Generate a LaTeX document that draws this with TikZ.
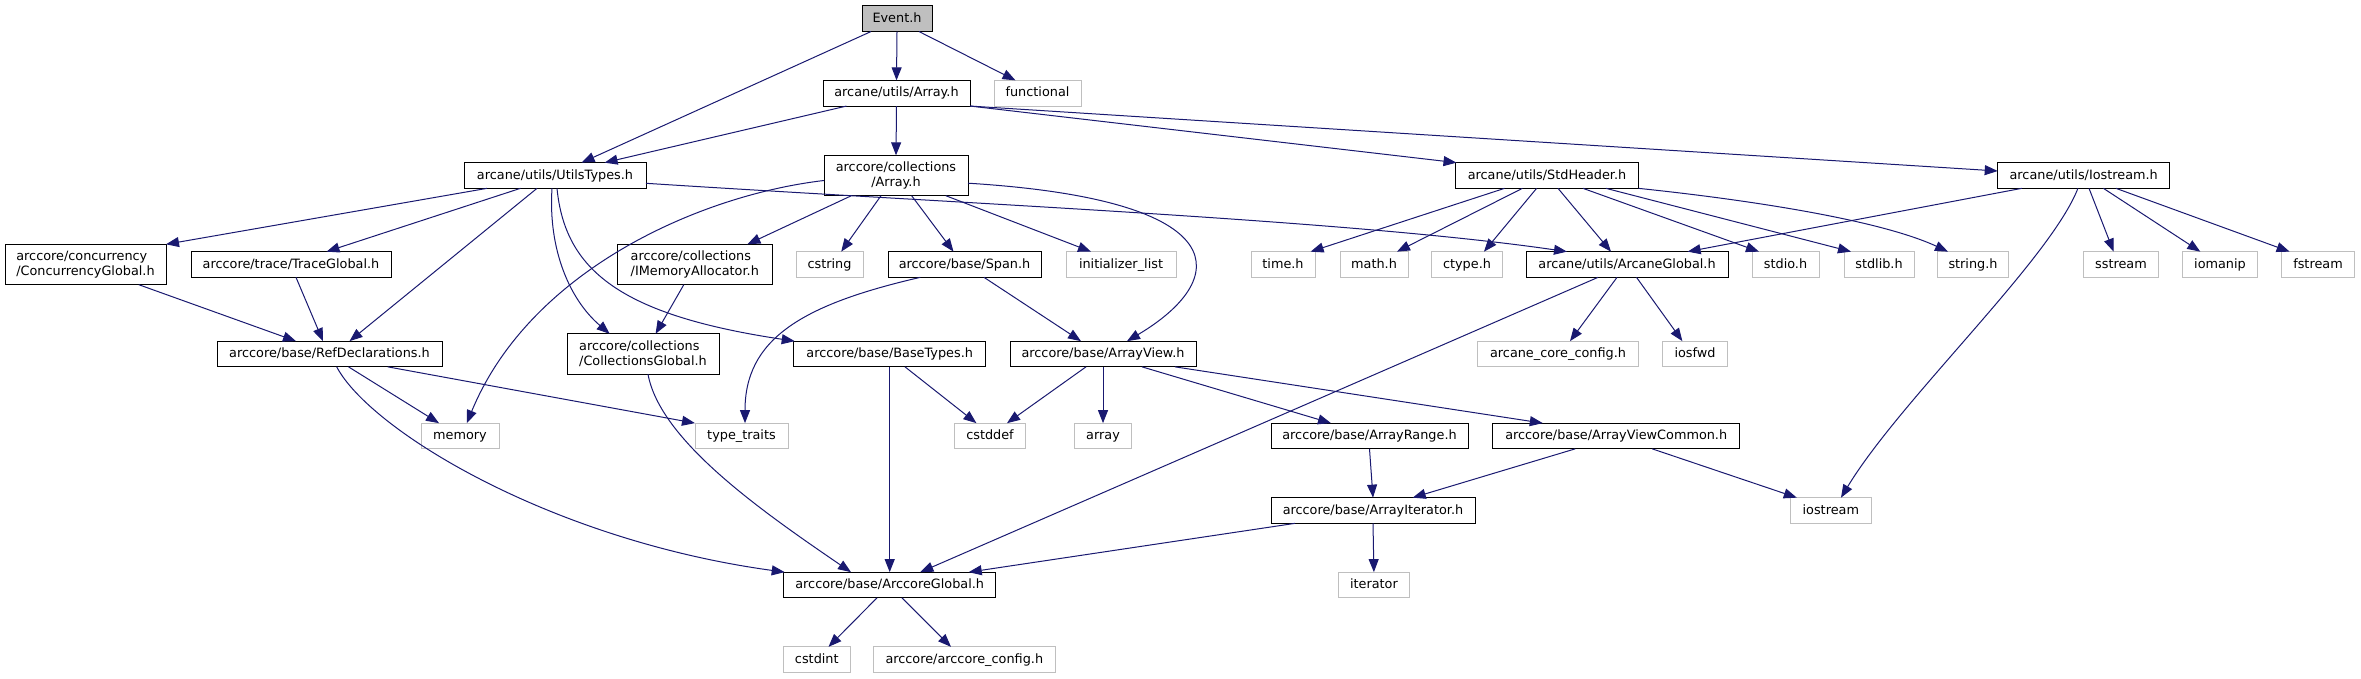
\documentclass[tikz,border=0pt]{standalone}
\usepackage{fontspec}
\setmainfont{DejaVu Sans}
\usetikzlibrary{arrows.meta}
\definecolor{edgeblue}{HTML}{191970}
\definecolor{sysgray}{HTML}{BFBFBF}
\begin{document}
\begin{tikzpicture}[x=1pt,y=-1pt,
  every node/.style={font=\fontsize{12.83pt}{15pt}\selectfont, inner sep=0pt, outer sep=0pt, rectangle, text height=10pt, text depth=2.4pt, minimum height=25.7pt},
  hdr/.style={draw=black, line width=1pt, fill=white},
  sys/.style={draw=sysgray, line width=1pt, fill=white},
  root/.style={draw=black, line width=1pt, fill=sysgray},
  two/.style={minimum height=40.4pt, text height=25pt, text depth=2.4pt},
  dep/.style={draw=edgeblue, line width=1pt, -{Triangle[length=13pt,width=10pt]}}]
\useasboundingbox (0,0) rectangle (2361,679);
% row 0
\node[root, minimum width=70pt] (Event) at (897,18.7) {Event.h};
% row 1
\node[hdr, minimum width=147pt] (ArrayA) at (896.5,93.2) {arcane/utils/Array.h};
\node[sys, minimum width=87pt] (functional) at (1037.5,93.2) {functional};
% row 2
\node[hdr, minimum width=182pt] (UtilsTypes) at (555,175.5) {arcane/utils/UtilsTypes.h};
\node[hdr, two, minimum width=144pt, align=center] (collArray) at (896,175.5) {arccore/collections\\/Array.h};
\node[hdr, minimum width=183pt] (StdHeader) at (1547,175.5) {arcane/utils/StdHeader.h};
\node[hdr, minimum width=172pt] (Iostream) at (2083.7,175.5) {arcane/utils/Iostream.h};
% row 3
\node[hdr, two, minimum width=161pt, align=left] (Concurrency) at (85.5,264.5) {arccore/concurrency\\/ConcurrencyGlobal.h};
\node[hdr, minimum width=200pt] (TraceGlobal) at (291,264.5) {arccore/trace/TraceGlobal.h};
\node[hdr, two, minimum width=155.5pt, align=left] (IMem) at (694.8,264.5) {arccore/collections\\/IMemoryAllocator.h};
\node[sys, minimum width=67pt] (cstring) at (829.5,264.5) {cstring};
\node[hdr, minimum width=153pt] (Span) at (964.5,264.5) {arccore/base/Span.h};
\node[sys, minimum width=110pt] (initlist) at (1121,264.5) {initializer\_list};
\node[sys, minimum width=64pt] (timeh) at (1283,264.5) {time.h};
\node[sys, minimum width=68pt] (mathh) at (1374,264.5) {math.h};
\node[sys, minimum width=71pt] (ctypeh) at (1467,264.5) {ctype.h};
\node[hdr, minimum width=202pt] (ArcaneGlobal) at (1627,264.5) {arcane/utils/ArcaneGlobal.h};
\node[sys, minimum width=67pt] (stdioh) at (1785.5,264.5) {stdio.h};
\node[sys, minimum width=70pt] (stdlibh) at (1879,264.5) {stdlib.h};
\node[sys, minimum width=70.5pt] (stringh) at (1973,264.5) {string.h};
\node[sys, minimum width=74.5pt] (sstream) at (2121,264.5) {sstream};
\node[sys, minimum width=74.5pt] (iomanip) at (2220,264.5) {iomanip};
\node[sys, minimum width=73.6pt] (fstream) at (2318,264.5) {fstream};
% row 4
\node[hdr, minimum width=225pt] (RefDecl) at (329.5,354) {arccore/base/RefDeclarations.h};
\node[hdr, two, minimum width=152pt, align=left] (CollGlobal) at (643,354) {arccore/collections\\/CollectionsGlobal.h};
\node[hdr, minimum width=192pt] (BaseTypes) at (889.7,354) {arccore/base/BaseTypes.h};
\node[hdr, minimum width=186pt] (ArrayView) at (1103,354) {arccore/base/ArrayView.h};
\node[sys, minimum width=160.5pt] (corecfg) at (1558,354) {arcane\_core\_config.h};
\node[sys, minimum width=65.5pt] (iosfwd) at (1695,354) {iosfwd};
% row 5
\node[sys, minimum width=78pt] (memory) at (460,436) {memory};
\node[sys, minimum width=93pt] (typetraits) at (741.5,436) {type\_traits};
\node[sys, minimum width=71pt] (cstddef) at (990,436) {cstddef};
\node[sys, minimum width=56.5pt] (array) at (1103,436) {array};
\node[hdr, minimum width=197pt] (ArrayRange) at (1369.5,436) {arccore/base/ArrayRange.h};
\node[hdr, minimum width=246.8pt] (AVC) at (1616.2,436) {arccore/base/ArrayViewCommon.h};
% row 6
\node[hdr, minimum width=204pt] (ArrayIter) at (1373,510.5) {arccore/base/ArrayIterator.h};
\node[sys, minimum width=80.4pt] (iostream) at (1830.8,510.5) {iostream};
% row 7
\node[hdr, minimum width=212pt] (ArccoreGlobal) at (889.7,585) {arccore/base/ArccoreGlobal.h};
\node[sys, minimum width=70.3pt] (iterator) at (1373.9,585) {iterator};
% row 8
\node[sys, minimum width=66.4pt] (cstdint) at (816.8,659.7) {cstdint};
\node[sys, minimum width=182.5pt] (arccorecfg) at (964.3,659.7) {arccore/arccore\_config.h};

% edges
\draw[dep] ([xshift=-26pt]Event.south) -- ([xshift=26.6pt]UtilsTypes.north);
\draw[dep] (Event.south) -- (ArrayA.north);
\draw[dep] ([xshift=22pt]Event.south) -- ([xshift=-22pt]functional.north);
\draw[dep] ([xshift=-50pt]ArrayA.south) -- ([xshift=49.6pt]UtilsTypes.north);
\draw[dep] (ArrayA.south) -- (collArray.north);
\draw[dep] (ArrayA.south east) -- ([xshift=1pt]StdHeader.north west);
\draw[dep] (ArrayA.south east) -- ([yshift=4.5pt]Iostream.west);
% UtilsTypes
\draw[dep] ([xshift=-68pt]UtilsTypes.south) -- (Concurrency.north east);
\draw[dep] ([xshift=-34.6pt]UtilsTypes.south) -- ([xshift=35.5pt]TraceGlobal.north);
\draw[dep] ([xshift=-18pt]UtilsTypes.south) -- ([xshift=20pt]RefDecl.north);
\draw[dep] ([xshift=-3pt]UtilsTypes.south) .. controls (548,250) and (570,300) .. ([xshift=-33.3pt]CollGlobal.north);
\draw[dep] ([xshift=2pt]UtilsTypes.south) .. controls (565,270) and (620,315) .. ([xshift=1pt]BaseTypes.north west);
\draw[dep] ([yshift=-7.8pt]UtilsTypes.east) .. controls (950,203) and (1350,220) .. ([xshift=-60pt]ArcaneGlobal.north);
% row 3 to row 4
\draw[dep] ([xshift=53.3pt]Concurrency.south) -- ([xshift=-33.5pt]RefDecl.north);
\draw[dep] ([xshift=5pt]TraceGlobal.south) -- ([xshift=-6.5pt]RefDecl.north);
\draw[dep] ([xshift=-11pt]IMem.south) -- ([xshift=12.6pt]CollGlobal.north);
% collections/Array.h
\draw[dep] ([yshift=-5pt]collArray.west) .. controls (700,195) and (530,270) .. ([xshift=6.8pt]memory.north);
\draw[dep] ([xshift=-44.6pt]collArray.south) -- ([xshift=52.6pt]IMem.north);
\draw[dep] ([xshift=-15pt]collArray.south) -- ([xshift=11.7pt]cstring.north);
\draw[dep] ([xshift=15.6pt]collArray.south) -- ([xshift=-11pt]Span.north);
\draw[dep] ([xshift=49.8pt]collArray.south) -- ([xshift=-30pt]initlist.north);
\draw[dep] ([yshift=-7.7pt]collArray.east) .. controls (1240,200) and (1230,280) .. ([xshift=24pt]ArrayView.north);
% Span
\draw[dep] ([xshift=-44.2pt]Span.south) .. controls (800,305) and (745,340) .. ([xshift=3.5pt]typetraits.north);
\draw[dep] ([xshift=19.5pt]Span.south) -- ([xshift=-22pt]ArrayView.north);
% StdHeader
\draw[dep] ([xshift=-42.5pt]StdHeader.south) -- ([xshift=27.6pt]timeh.north);
\draw[dep] ([xshift=-24.6pt]StdHeader.south) -- ([xshift=23pt]mathh.north);
\draw[dep] ([xshift=-10.4pt]StdHeader.south) -- ([xshift=17pt]ctypeh.north);
\draw[dep] ([xshift=11pt]StdHeader.south) -- ([xshift=-16pt]ArcaneGlobal.north);
\draw[dep] ([xshift=36pt]StdHeader.south) -- ([xshift=-26.5pt]stdioh.north);
\draw[dep] ([xshift=59pt]StdHeader.south) -- ([xshift=-28pt]stdlibh.north);
\draw[dep] (StdHeader.south east) .. controls (1750,200) and (1880,220) .. ([xshift=-25pt]stringh.north);
% Iostream
\draw[dep] ([xshift=-62pt]Iostream.south) -- ([xshift=60.6pt]ArcaneGlobal.north);
\draw[dep] ([xshift=-5.8pt]Iostream.south) .. controls (2050,260) and (1900,400) .. ([xshift=10.2pt]iostream.north);
\draw[dep] ([xshift=5.3pt]Iostream.south) -- ([xshift=-7.4pt]sstream.north);
\draw[dep] ([xshift=19.7pt]Iostream.south) -- ([xshift=-19.7pt]iomanip.north);
\draw[dep] ([xshift=32.3pt]Iostream.south) -- ([xshift=-28.4pt]fstream.north);
% ArcaneGlobal
\draw[dep] ([xshift=-29pt]ArcaneGlobal.south) -- ([xshift=30.6pt]ArccoreGlobal.north);
\draw[dep] ([xshift=-10pt]ArcaneGlobal.south) -- ([xshift=12pt]corecfg.north);
\draw[dep] ([xshift=9.5pt]ArcaneGlobal.south) -- ([xshift=-12.6pt]iosfwd.north);
% RefDeclarations
\draw[dep] ([xshift=19pt]RefDecl.south) -- ([xshift=-21pt]memory.north);
\draw[dep] ([xshift=58.3pt]RefDecl.south) -- (typetraits.north west);
\draw[dep] ([xshift=7.2pt]RefDecl.south) .. controls (370,430) and (550,540) .. ([xshift=1pt]ArccoreGlobal.north west);
% CollectionsGlobal
\draw[dep] ([xshift=5pt]CollGlobal.south) .. controls (660,440) and (760,510) .. ([xshift=-38.7pt]ArccoreGlobal.north);
% BaseTypes
\draw[dep] ([xshift=15.3pt]BaseTypes.south) -- ([xshift=-13.6pt]cstddef.north);
\draw[dep] (BaseTypes.south) -- (ArccoreGlobal.north);
% ArrayView
\draw[dep] ([xshift=-17pt]ArrayView.south) -- ([xshift=17pt]cstddef.north);
\draw[dep] (ArrayView.south) -- (array.north);
\draw[dep] ([xshift=39pt]ArrayView.south) -- ([xshift=-38.5pt]ArrayRange.north);
\draw[dep] ([xshift=72pt]ArrayView.south) -- ([xshift=-73.4pt]AVC.north);
% ArrayRange / ArrayViewCommon
\draw[dep] (ArrayRange.south) -- (ArrayIter.north);
\draw[dep] ([xshift=-41pt]AVC.south) -- ([xshift=39.7pt]ArrayIter.north);
\draw[dep] ([xshift=36pt]AVC.south) -- ([xshift=-34pt]iostream.north);
% ArrayIterator
\draw[dep] ([xshift=-78pt]ArrayIter.south) -- ([xshift=79pt]ArccoreGlobal.north);
\draw[dep] (ArrayIter.south) -- (iterator.north);
% ArccoreGlobal
\draw[dep] ([xshift=-12.7pt]ArccoreGlobal.south) -- ([xshift=11.7pt]cstdint.north);
\draw[dep] ([xshift=12.3pt]ArccoreGlobal.south) -- ([xshift=-13.3pt]arccorecfg.north);
\end{tikzpicture}
\end{document}
